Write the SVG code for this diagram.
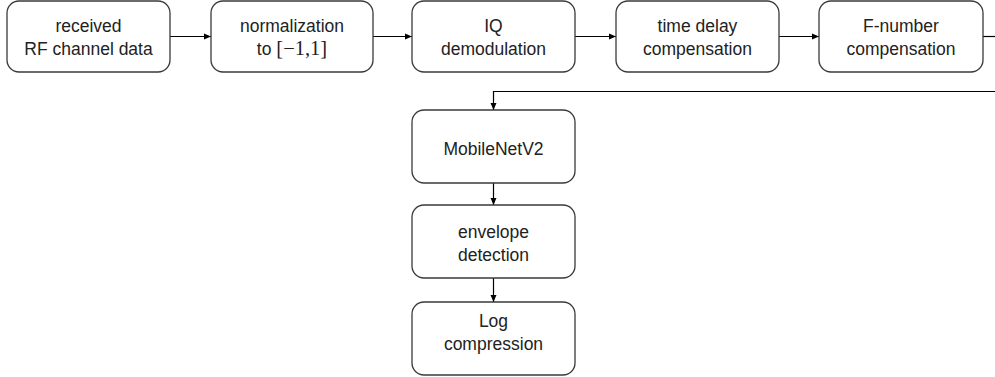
<svg xmlns="http://www.w3.org/2000/svg" width="995" height="377" viewBox="0 0 995 377">
<style>
.box{fill:#fff;stroke:#3a3a3a;stroke-width:1.3}
.t{font-family:"Liberation Sans",Arial,sans-serif;font-size:17.5px;fill:#222;text-anchor:middle}
.m{font-family:"Liberation Serif","Times New Roman",serif;font-size:20.5px}
.c{fill:none;stroke:#000;stroke-width:1.2}
</style>
<defs>
<marker id="ah" markerWidth="8" markerHeight="8" refX="7" refY="4" orient="auto" markerUnits="userSpaceOnUse">
<path d="M0,1 L7,4 L0,7 Z" fill="#000"/>
</marker>
</defs>
<rect width="995" height="377" fill="#fff"/>
<g id="connectors">
<line class="c" x1="170" y1="36.5" x2="211" y2="36.5" marker-end="url(#ah)"/>
<line class="c" x1="373" y1="36.5" x2="412" y2="36.5" marker-end="url(#ah)"/>
<line class="c" x1="575" y1="36.5" x2="616" y2="36.5" marker-end="url(#ah)"/>
<line class="c" x1="779" y1="36.5" x2="819" y2="36.5" marker-end="url(#ah)"/>
<line class="c" x1="983" y1="36.5" x2="995" y2="36.5"/>
<polyline class="c" points="995,91.5 493.5,91.5 493.5,110" marker-end="url(#ah)"/>
<line class="c" x1="493.5" y1="183" x2="493.5" y2="205" marker-end="url(#ah)"/>
<line class="c" x1="493.5" y1="278" x2="493.5" y2="302" marker-end="url(#ah)"/>
</g>
<g id="n1"><rect class="box" x="7" y="1" width="163" height="71" rx="12"/>
<text class="t" x="88.5" y="32">received</text><text class="t" x="88.5" y="55">RF channel data</text></g>
<g id="n2"><rect class="box" x="211" y="1" width="162" height="71" rx="12"/>
<text class="t" x="292" y="32">normalization</text><text class="t" x="292" y="55">to <tspan class="m">[−1,1]</tspan></text></g>
<g id="n3"><rect class="box" x="412" y="1" width="163" height="71" rx="12"/>
<text class="t" x="493.5" y="32">IQ</text><text class="t" x="493.5" y="55">demodulation</text></g>
<g id="n4"><rect class="box" x="616" y="1" width="163" height="71" rx="12"/>
<text class="t" x="697.5" y="32">time delay</text><text class="t" x="697.5" y="55">compensation</text></g>
<g id="n5"><rect class="box" x="819" y="1" width="164" height="71" rx="12"/>
<text class="t" x="901" y="32">F-number</text><text class="t" x="901" y="55">compensation</text></g>
<g id="n6"><rect class="box" x="412" y="110" width="163" height="73" rx="12"/>
<text class="t" x="493.5" y="155">MobileNetV2</text></g>
<g id="n7"><rect class="box" x="412" y="205" width="163" height="73" rx="12"/>
<text class="t" x="493.5" y="238">envelope</text><text class="t" x="493.5" y="261">detection</text></g>
<g id="n8"><rect class="box" x="412" y="302" width="163" height="73" rx="12"/>
<text class="t" x="493.5" y="327">Log</text><text class="t" x="493.5" y="350">compression</text></g>
</svg>
